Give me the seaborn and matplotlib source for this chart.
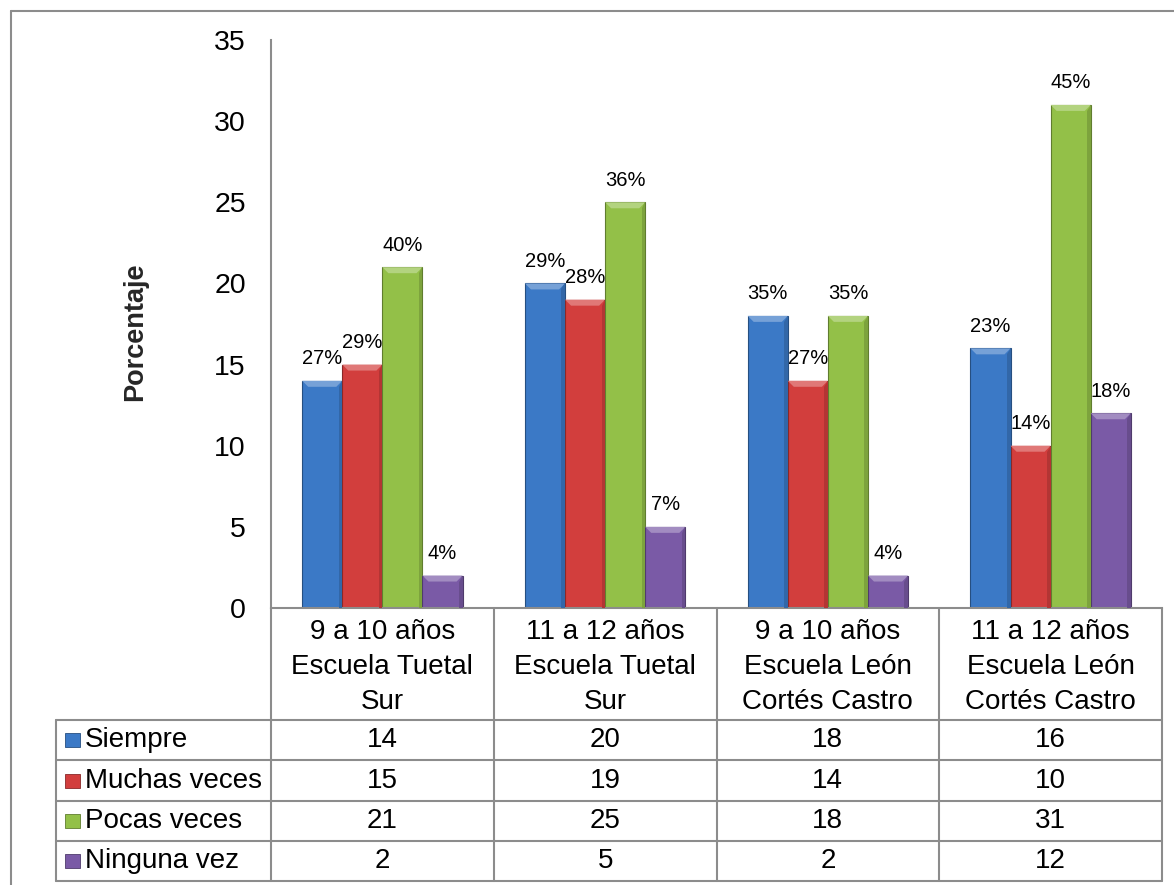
import numpy as np
import pandas as pd
import matplotlib
matplotlib.use("Agg")
import matplotlib.pyplot as plt
import seaborn as sns
from matplotlib.patches import Polygon, Rectangle
from matplotlib.lines import Line2D
from matplotlib.colors import to_rgb
from matplotlib.transforms import blended_transform_factory

# ---------------- data ----------------
categories = [
    "9 a 10 años\nEscuela Tuetal\nSur",
    "11 a 12 años\nEscuela Tuetal\nSur",
    "9 a 10 años\nEscuela León\nCortés Castro",
    "11 a 12 años\nEscuela León\nCortés Castro",
]
series = ["Siempre", "Muchas veces", "Pocas veces", "Ninguna vez"]
siempre = [14, 20, 18, 16]
muchas_veces = [15, 19, 14, 10]
pocas_veces = [21, 25, 18, 31]
ninguna_vez = [2, 5, 2, 12]
lbl_siempre = ["27%", "29%", "35%", "23%"]
lbl_muchas = ["29%", "28%", "27%", "14%"]
lbl_pocas = ["40%", "36%", "35%", "45%"]
lbl_ninguna = ["4%", "7%", "4%", "18%"]
yticks = [0, 5, 10, 15, 20, 25, 30, 35]
ylabel = "Porcentaje"

values = [siempre, muchas_veces, pocas_veces, ninguna_vez]
labels = [lbl_siempre, lbl_muchas, lbl_pocas, lbl_ninguna]
colors = ["#3B79C6", "#D23E3D", "#93C048", "#7A5AA6"]

rows = []
for s, vals in zip(series, values):
    for c, v in zip(categories, vals):
        rows.append({"cat": c, "serie": s, "valor": v})
df = pd.DataFrame(rows)

# ---------------- figure ----------------
sns.set_theme(style="white")
plt.rcParams["font.family"] = ["Liberation Sans", "DejaVu Sans"]

W, H = 1174, 885
fig = plt.figure(figsize=(W / 100, H / 100), dpi=100)
fig.patch.set_facecolor("white")

ax_l, ax_r, ax_t, ax_b = 271, 1162, 40, 608
ax = fig.add_axes([ax_l / W, 1 - ax_b / H, (ax_r - ax_l) / W, (ax_b - ax_t) / H])

sns.barplot(data=df, x="cat", y="valor", hue="serie", order=categories,
            hue_order=series, palette=colors, saturation=1, width=0.72,
            legend=False, ax=ax, edgecolor="none", linewidth=0)

FS = 20
ax.set_xlim(-0.5, len(categories) - 0.5)
ax.set_ylim(0, 35)
ax.set_yticks(yticks)
ax.set_yticklabels([str(t) for t in yticks], fontsize=20.5, color="black")
ax.tick_params(axis="y", length=0, pad=18)
ax.set_xticks([])
ax.set_xlabel("")
ax.set_ylabel(ylabel, fontsize=19.5, fontweight="bold")
ax.yaxis.set_label_coords(-0.138, 0.486)
for sp in ["top", "right"]:
    ax.spines[sp].set_visible(False)
ax.spines["left"].set_color("#8c8c8c")
ax.spines["left"].set_linewidth(1.5)
ax.spines["bottom"].set_color("#8c8c8c")
ax.spines["bottom"].set_linewidth(1.5)
ax.grid(False)


def shade(col, f):
    r, g, b = to_rgb(col)
    if f > 0:
        return (r + (1 - r) * f, g + (1 - g) * f, b + (1 - b) * f)
    return (r * (1 + f), g * (1 + f), b * (1 + f))


# bevel effect & labels
px_x = (len(categories)) / (ax_r - ax_l)   # data units per pixel (x)
px_y = 35 / (ax_b - ax_t)                  # data units per pixel (y)
for k, cont in enumerate(ax.containers):
    col = colors[k]
    for p in cont.patches:
        x0, w, h = p.get_x(), p.get_width(), p.get_height()
        p.set_edgecolor(shade(col, -0.35))
        p.set_linewidth(0.8)
        bx, by = 6 * px_x, 6 * px_y
        top = Polygon([[x0, h], [x0 + w, h], [x0 + w - bx, h - by], [x0 + bx, h - by]],
                      closed=True, facecolor=shade(col, 0.3), edgecolor="none", zorder=3)
        ax.add_patch(top)
        right = Polygon([[x0 + w, h], [x0 + w, 0], [x0 + w - bx * 0.6, 0], [x0 + w - bx * 0.6, h - by]],
                        closed=True, facecolor=shade(col, -0.15), edgecolor="none", zorder=3)
        ax.add_patch(right)
    ax.bar_label(cont, labels=labels[k], padding=9, fontsize=14.5, color="black")

# ---------------- data table ----------------
tr = blended_transform_factory(ax.transData, ax.transAxes)
axh = ax_b - ax_t


def fy(py):
    return (ax_b - py) / axh


def fx(px):
    return (px - ax_l) * px_x - 0.5


line_kw = dict(color="#8c8c8c", lw=1.5, transform=tr, clip_on=False)
row_edges = [720, 760, 801, 841, 881]
left_px = 56
ncat = len(categories)
# vertical lines
for i in range(ncat + 1):
    ax.add_line(Line2D([i - 0.5, i - 0.5], [fy(ax_b), fy(row_edges[-1])], **line_kw))
ax.add_line(Line2D([fx(left_px), fx(left_px)], [fy(row_edges[0]), fy(row_edges[-1])], **line_kw))
# horizontal lines
for ry in row_edges:
    ax.add_line(Line2D([fx(left_px), ncat - 0.5], [fy(ry), fy(ry)], **line_kw))

# header text
for i, c in enumerate(categories):
    ax.text(i, fy(667), c, transform=tr, ha="center", va="center", fontsize=FS,
            linespacing=1.44, color="black", clip_on=False)

# rows
for r, (s, vals) in enumerate(zip(series, values)):
    yc = fy((row_edges[r] + row_edges[r + 1]) / 2)
    ax.add_patch(Rectangle((fx(65), yc - 7 / axh), 15 * px_x, 14 / axh, transform=tr,
                           facecolor=colors[r], edgecolor=shade(colors[r], -0.35),
                           lw=0.6, clip_on=False))
    ax.text(fx(85), yc, s, transform=tr, ha="left", va="center", fontsize=FS,
            color="black", clip_on=False)
    for i, v in enumerate(vals):
        ax.text(i, yc, str(v), transform=tr, ha="center", va="center", fontsize=FS,
                color="black", clip_on=False)

# outer frame
fig.add_artist(Line2D([11 / W, 11 / W], [0, 1 - 11 / H], color="#8c8c8c", lw=1.5,
                      transform=fig.transFigure))
fig.add_artist(Line2D([11 / W, 1], [1 - 11 / H, 1 - 11 / H], color="#8c8c8c", lw=1.5,
                      transform=fig.transFigure))

fig.savefig("out.png", dpi=100, facecolor="white")
